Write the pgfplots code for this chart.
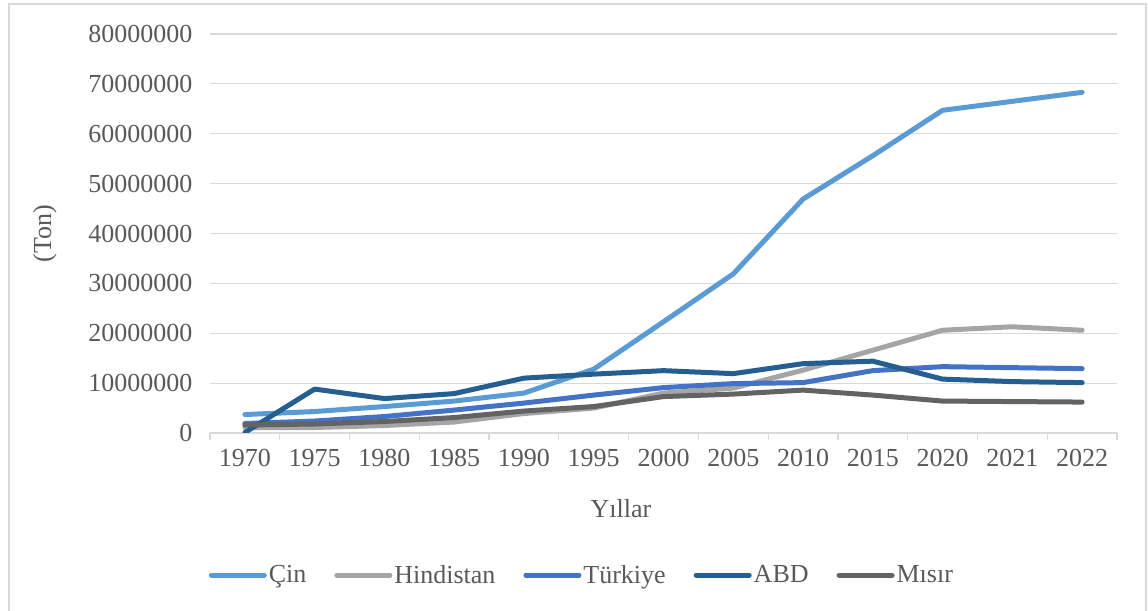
\documentclass[border=0pt]{standalone}
\usepackage{pgfplots}
\pgfplotsset{compat=1.18}
\usepackage{pgfplotstable}
\usepackage{fontspec}
\setmainfont{Liberation Serif}
\definecolor{cCin}{HTML}{5B9BD5}
\definecolor{cHin}{HTML}{A5A5A5}
\definecolor{cTur}{HTML}{4472C4}
\definecolor{cAbd}{HTML}{255E91}
\definecolor{cMis}{HTML}{636363}
\definecolor{txt}{HTML}{595959}
\definecolor{grd}{HTML}{D9D9D9}

\pgfplotstableread{
idx Cin Hin Tur Abd Mis
0  3700000  1100000  1900000   100000 1600000
1  4300000  1100000  2400000  8800000 1800000
2  5300000  1500000  3300000  6900000 2300000
3  6400000  2200000  4600000  7900000 3100000
4  8000000  3900000  6000000 11000000 4400000
5 12800000  5000000  7600000 11800000 5300000
6 22300000  8000000  9100000 12500000 7300000
7 31900000  9000000  9900000 11900000 7800000
8 46900000 12600000 10100000 13900000 8600000
9 55600000 16600000 12500000 14400000 7600000
10 64700000 20600000 13300000 10800000 6400000
11 66500000 21300000 13100000 10300000 6300000
12 68300000 20600000 12900000 10100000 6200000
}\datatable

\begin{document}
\begin{tikzpicture}[x=1bp,y=1bp,font=\fontsize{26bp}{31bp}\selectfont]
\useasboundingbox (0,0) rectangle (1148,611);
\draw[grd, line width=1.2bp] (9,-10) -- (9,607) -- (1146,607) -- (1146,-10);
\begin{axis}[
  at={(210bp,178bp)}, anchor=south west,
  scale only axis, width=907bp, height=399bp,
  xmin=-0.5, xmax=12.5, ymin=0, ymax=80000000,
  axis lines*=left,
  y axis line style={draw=none},
  x axis line style={grd, line width=1.2bp},
  xtick={0,1,2,3,4,5,6,7,8,9,10,11,12},
  xticklabels={1970,1975,1980,1985,1990,1995,2000,2005,2010,2015,2020,2021,2022},
  minor xtick={-0.5,0.5,1.5,2.5,3.5,4.5,5.5,6.5,7.5,8.5,9.5,10.5,11.5,12.5},
  major tick length=0pt,
  minor tick length=7bp,
  xtick align=outside,
  minor x tick style={grd, line width=1.2bp},
  ytick={0,10000000,20000000,30000000,40000000,50000000,60000000,70000000,80000000},
  yticklabels={0,10000000,20000000,30000000,40000000,50000000,60000000,70000000,80000000},
  scaled y ticks=false,
  ytick style={draw=none},
  ymajorgrids, major grid style={grd, line width=1.2bp},
  tick label style={font=\fontsize{26bp}{31bp}\selectfont, text=txt},
  yticklabel style={xshift=-14bp},
  xticklabel style={yshift=-13bp},
  xlabel={Yıllar}, ylabel={(Ton)},
  xlabel style={at={(axis description cs:0.453,-0.19)}, anchor=center, text=txt, font=\fontsize{26bp}{31bp}\selectfont},
  ylabel style={at={(axis description cs:-0.182,0.5)}, anchor=center, text=txt, font=\fontsize{26bp}{31bp}\selectfont},
  legend columns=5,
  legend style={at={(axis description cs:0.41,-0.356)}, anchor=center, draw=none, fill=none,
    font=\fontsize{26bp}{31bp}\selectfont, text=txt,
    /tikz/every even column/.append style={column sep=26bp}},
  legend image code/.code={\draw[#1, line cap=round] (0bp,0bp) -- (53bp,0bp);},
]
\addplot[cCin, line width=5bp, line join=round, line cap=round] table[x=idx,y=Cin] {\datatable};
\addlegendentry{Çin}
\addplot[cHin, line width=5bp, line join=round, line cap=round] table[x=idx,y=Hin] {\datatable};
\addlegendentry{Hindistan}
\addplot[cTur, line width=5bp, line join=round, line cap=round] table[x=idx,y=Tur] {\datatable};
\addlegendentry{Türkiye}
\addplot[cAbd, line width=5bp, line join=round, line cap=round] table[x=idx,y=Abd] {\datatable};
\addlegendentry{ABD}
\addplot[cMis, line width=5bp, line join=round, line cap=round] table[x=idx,y=Mis] {\datatable};
\addlegendentry{Mısır}
\end{axis}
\end{tikzpicture}
\end{document}
